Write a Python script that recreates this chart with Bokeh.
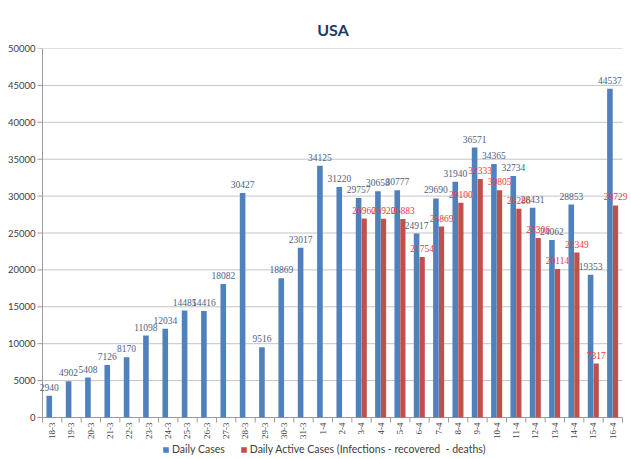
import math
from bokeh.plotting import figure
from bokeh.models import (Range1d, Legend, LegendItem, ColumnDataSource, FixedTicker,
                          NumeralTickFormatter, LabelSet)
from bokeh.transform import dodge
from bokeh.embed import file_html
from bokeh.resources import INLINE

dates = ["18-3", "19-3", "20-3", "21-3", "22-3", "23-3", "24-3", "25-3", "26-3", "27-3",
         "28-3", "29-3", "30-3", "31-3", "1-4", "2-4", "3-4", "4-4", "5-4", "6-4",
         "7-4", "8-4", "9-4", "10-4", "11-4", "12-4", "13-4", "14-4", "15-4", "16-4"]
daily_cases = [2940, 4902, 5408, 7126, 8170, 11098, 12034, 14485, 14416, 18082,
               30427, 9516, 18869, 23017, 34125, 31220, 29757, 30658, 30777, 24917,
               29690, 31940, 36571, 34365, 32734, 28431, 24062, 28853, 19353, 44537]
active_dates = ["3-4", "4-4", "5-4", "6-4", "7-4", "8-4", "9-4", "10-4", "11-4",
                "12-4", "13-4", "14-4", "15-4", "16-4"]
active_cases = [26960, 26920, 26883, 21754, 25869, 29100, 32333, 30805, 28286,
                24306, 20114, 22349, 7317, 28729]
y_ticks = [0, 5000, 10000, 15000, 20000, 25000, 30000, 35000, 40000, 45000, 50000]

BLUE = "#4F81BD"
RED = "#C0504D"
FONT = "Lato"
GRID = "#c4c4c4"
AXIS = "#9a9a9a"

Y_MAX = 50000
PLOT_PX = 369          # pixel height of the 0..50000 area
BOTTOM_PX = 41         # room below zero for date labels and legend
px = Y_MAX / PLOT_PX   # data units per pixel

pos = {d: i for i, d in enumerate(dates)}
n = len(dates)
src_d = ColumnDataSource(dict(x=[pos[d] for d in dates], v=daily_cases,
                              lbl=[str(v) for v in daily_cases]))
src_a = ColumnDataSource(dict(x=[pos[d] for d in active_dates], v=active_cases,
                              lbl=[str(v) for v in active_cases]))
src_t = ColumnDataSource(dict(x=list(range(n)), y=[0] * n, d=dates))

p = figure(x_range=Range1d(-0.862, n - 0.5 + 0.414),
           y_range=Range1d(-BOTTOM_PX * px, Y_MAX),
           frame_width=595, frame_height=PLOT_PX + BOTTOM_PX,
           output_backend="svg", toolbar_location=None,
           min_border_left=35, min_border_right=0, min_border_top=48, min_border_bottom=0)

# grid lines, axis lines and tick marks spanning only the category area
p.segment(x0=-0.5, x1=n - 0.5, y0=y_ticks[1:], y1=y_ticks[1:], line_color=GRID, line_width=1)
p.segment(x0=-0.5, x1=n - 0.5, y0=0, y1=0, line_color=AXIS, line_width=1)
p.segment(x0=-0.5, x1=-0.5, y0=0, y1=Y_MAX, line_color=AXIS, line_width=1)
p.segment(x0=-0.76, x1=-0.5, y0=y_ticks, y1=y_ticks, line_color=AXIS, line_width=1)
p.segment(x0=[i - 0.5 for i in range(n + 1)], x1=[i - 0.5 for i in range(n + 1)],
          y0=0, y1=-5 * px, line_color=AXIS, line_width=1)

r1 = p.vbar(x=dodge("x", -0.15), top="v", width=0.29, source=src_d,
            fill_color=BLUE, line_color=None)
r2 = p.vbar(x=dodge("x", 0.14), top="v", width=0.27, source=src_a,
            fill_color=RED, line_color=None)

p.add_layout(LabelSet(x=dodge("x", -0.15), y="v", text="lbl", source=src_d,
                      text_align="center", text_baseline="bottom", y_offset=5,
                      text_font=FONT, text_font_size="9.5px", text_color="#4f617f"))
p.add_layout(LabelSet(x=dodge("x", 0.14), y="v", text="lbl", source=src_a,
                      text_align="center", text_baseline="bottom", y_offset=5,
                      text_font=FONT, text_font_size="9.5px", text_color="#f03a3a"))

# date tick labels, rotated
p.add_layout(LabelSet(x="x", y="y", text="d", source=src_t, angle=math.pi / 2,
                      text_align="right", text_baseline="middle", y_offset=-5,
                      text_font=FONT, text_font_size="9px", text_color="#404040"))

p.outline_line_color = None
p.xgrid.grid_line_color = None
p.ygrid.grid_line_color = None
p.xaxis.visible = False

p.yaxis.ticker = FixedTicker(ticks=y_ticks)
p.yaxis.formatter = NumeralTickFormatter(format="0")
p.yaxis.axis_line_color = None
p.yaxis.major_tick_line_color = None
p.yaxis.major_tick_in = 0
p.yaxis.major_tick_out = 0
p.yaxis.minor_tick_line_color = None
p.yaxis.major_label_text_font = FONT
p.yaxis.major_label_text_font_size = "9.5px"
p.yaxis.major_label_text_color = "#404040"
p.yaxis.major_label_standoff = 0

p.title.text = "USA"
p.title.align = "center"
p.title.text_font = FONT
p.title.text_font_size = "16px"
p.title.text_font_style = "bold"
p.title.text_color = "#1f3a5f"
p.title.standoff = 20

legend = Legend(items=[LegendItem(label="Daily Cases", renderers=[r1]),
                       LegendItem(label="Daily Active Cases (Infections - recovered  - deaths)", renderers=[r2])],
                orientation="horizontal", location=(127, 3), border_line_color=None,
                background_fill_alpha=0, padding=0, margin=0, spacing=15,
                glyph_width=7, glyph_height=7, label_height=10, label_standoff=3,
                label_text_font=FONT, label_text_font_size="10.5px", label_text_color="#404040")
p.add_layout(legend)

open("out.html", "w").write(file_html(p, INLINE))
